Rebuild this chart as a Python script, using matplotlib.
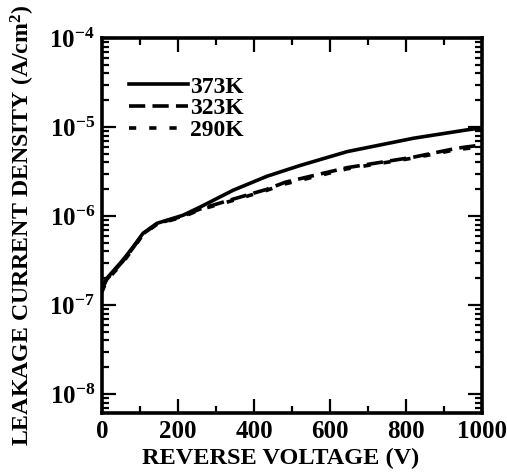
import numpy as np
import matplotlib
matplotlib.use("Agg")
import matplotlib.pyplot as plt
from matplotlib.ticker import FuncFormatter, LogLocator, MultipleLocator

plt.rcParams['font.family'] = ['Liberation Serif', 'DejaVu Serif']
plt.rcParams['font.weight'] = 'bold'
plt.rcParams['mathtext.fontset'] = 'custom'
plt.rcParams['mathtext.rm'] = 'Liberation Serif:bold'
plt.rcParams['mathtext.bf'] = 'Liberation Serif:bold'
plt.rcParams['mathtext.it'] = 'Liberation Serif:bold:italic'

v_373 = [0, 13, 55, 82, 108, 145, 213, 258, 345, 434, 521, 645, 820, 960, 1000]
j_373 = [1.6e-7, 2.0e-7, 3.2e-7, 4.5e-7, 6.4e-7, 8.3e-7, 1.02e-6, 1.26e-6,
         1.95e-6, 2.8e-6, 3.7e-6, 5.3e-6, 7.5e-6, 9.3e-6, 9.8e-6]

v_323 = [0, 13, 55, 82, 108, 145, 213, 258, 345, 434, 482, 645, 820, 935, 1000]
j_323 = [1.5e-7, 1.95e-7, 3.1e-7, 4.4e-7, 6.3e-7, 8.2e-7, 1.0e-6, 1.2e-6,
         1.55e-6, 2.0e-6, 2.4e-6, 3.5e-6, 4.6e-6, 5.8e-6, 6.3e-6]

v_290 = [0, 13, 55, 82, 108, 145, 213, 258, 345, 434, 482, 645, 820, 935, 1000]
j_290 = [1.4e-7, 1.9e-7, 3.0e-7, 4.3e-7, 6.2e-7, 8.1e-7, 0.98e-6, 1.18e-6,
         1.5e-6, 1.95e-6, 2.3e-6, 3.4e-6, 4.5e-6, 5.6e-6, 6.0e-6]

fig = plt.figure(figsize=(5.07, 4.76), dpi=100)
ax = fig.add_axes([0.201, 0.132, 0.750, 0.788])

lw = 2.6
ax.plot(v_373, j_373, color='black', lw=lw, ls='-', label='373K')
ax.plot(v_323, j_323, color='black', lw=lw, ls=(0, (4.5, 2)), label='323K')
ax.plot(v_290, j_290, color='black', lw=lw, ls=(0, (2, 3.6)), label='290K')

ax.set_yscale('log')
ax.set_xlim(0, 1000)
ax.set_ylim(6.1e-9, 1e-4)

ax.xaxis.set_major_locator(MultipleLocator(200))
ax.xaxis.set_minor_locator(MultipleLocator(100))
ax.yaxis.set_major_locator(LogLocator(base=10, numticks=10))
ax.yaxis.set_minor_locator(LogLocator(base=10, subs=np.arange(2, 10), numticks=20))
ax.yaxis.set_major_formatter(FuncFormatter(lambda y, p: r'$\mathbf{10^{%d}}$' % round(np.log10(y))))

ax.tick_params(which='both', direction='in', top=True, right=True, labelsize=18, width=1.6)
ax.tick_params(which='major', length=10, pad=5)
ax.tick_params(which='minor', length=5)
for s in ax.spines.values():
    s.set_linewidth(2.6)

ax.set_xlabel('REVERSE VOLTAGE (V)', fontsize=17.5, fontweight='bold')
ax.xaxis.set_label_coords(0.471, -0.093)
ax.set_ylabel(r'LEAKAGE CURRENT DENSITY (A/cm$^\mathbf{2}$)', fontsize=17.2,
              fontweight='bold', labelpad=9)

ax.legend(loc='upper left', frameon=False, fontsize=17, handlelength=2.5,
          handletextpad=0.1, labelspacing=0.0, bbox_to_anchor=(0.015, 0.955))

fig.savefig('out.png', dpi=100)
